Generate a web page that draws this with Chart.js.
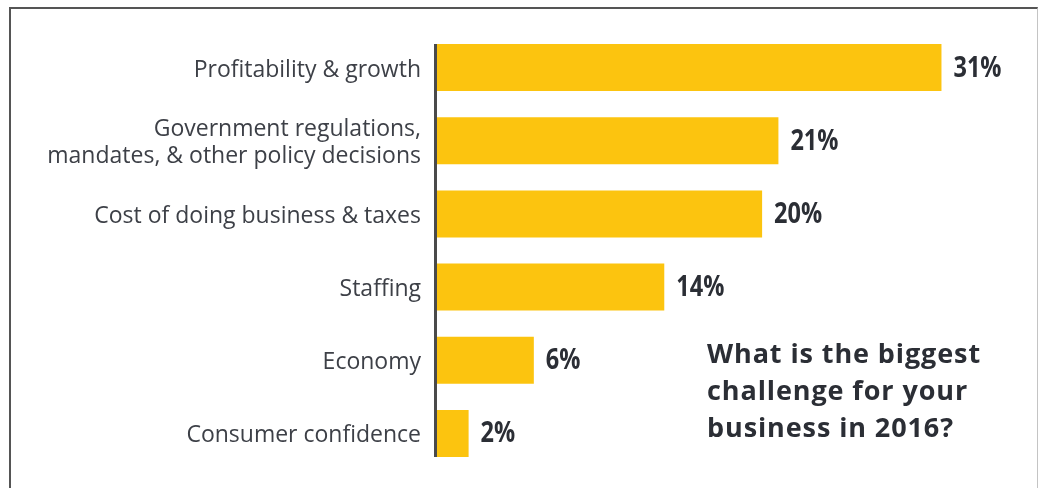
<!DOCTYPE html>
<html>
<head>
<meta charset="utf-8">
<script src="https://cdn.jsdelivr.net/npm/chart.js@4"></script>
<style>
  html, body { margin: 0; padding: 0; background: #fff; width: 1041px; height: 488px; overflow: hidden; }
  #wrap { position: relative; width: 1041px; height: 488px; }
  canvas { position: absolute; left: 0; top: 0; }
  #frame {
    position: absolute; left: 9px; top: 7px; width: 1026px; height: 500px;
    border-top: 2px solid #555; border-left: 2px solid #555; border-right: 1px solid #c4c4c4;
    pointer-events: none;
  }
  #question {
    position: absolute; left: 707px; top: 334px;
    font-family: "Open Sans", sans-serif; font-weight: 700; font-size: 27px;
    line-height: 37px; color: #2b2e35; letter-spacing: 0.9px;
  }
</style>
</head>
<body>
<div id="wrap">
  <canvas id="c" width="1041" height="488"></canvas>
  <div id="frame"></div>
  <div id="question">What is the biggest<br>challenge for your<br>business in 2016?</div>
</div>
<script>
const categories = [
  'Profitability & growth',
  ['Government regulations,', 'mandates, & other policy decisions'],
  'Cost of doing business & taxes',
  'Staffing',
  'Economy',
  'Consumer confidence'
];
const shares = [31, 21, 20, 14, 6, 2];
const valueLabels = ['31%', '21%', '20%', '14%', '6%', '2%'];

const AXIS_X = 436;

// Vertical axis line spanning from the first bar's top to the last bar's bottom
const axisLine = {
  id: 'axisLine',
  afterDatasetsDraw(chart) {
    const bars = chart.getDatasetMeta(0).data;
    const first = bars[0], last = bars[bars.length - 1];
    const ctx = chart.ctx;
    ctx.save();
    ctx.strokeStyle = '#4a4a4a';
    ctx.lineWidth = 3;
    ctx.beginPath();
    ctx.moveTo(chart.chartArea.left - 0.5, first.y - first.height / 2);
    ctx.lineTo(chart.chartArea.left - 0.5, last.y + last.height / 2);
    ctx.stroke();
    ctx.restore();
  }
};

// Percentage labels at the end of each bar, in a tall, slightly condensed bold face
const barValues = {
  id: 'barValues',
  afterDatasetsDraw(chart) {
    const ctx = chart.ctx;
    ctx.save();
    ctx.font = '700 28px "Open Sans", sans-serif';
    ctx.fillStyle = '#2b2e35';
    ctx.textBaseline = 'middle';
    ctx.textAlign = 'left';
    chart.getDatasetMeta(0).data.forEach((bar, i) => {
      ctx.save();
      ctx.translate(bar.x + 12, bar.y + 1);
      ctx.scale(0.84, 1);
      ctx.fillText(valueLabels[i], 0, 0);
      ctx.restore();
    });
    ctx.restore();
  }
};

new Chart(document.getElementById('c'), {
  type: 'bar',
  data: {
    labels: categories,
    datasets: [{
      data: shares,
      backgroundColor: '#fcc40f',
      borderWidth: 0,
      barPercentage: 0.643,
      categoryPercentage: 1.0
    }]
  },
  options: {
    indexAxis: 'y',
    responsive: false,
    animation: false,
    events: [],
    layout: { padding: { left: 0, right: 18, top: 31, bottom: 18 } },
    plugins: { legend: { display: false }, tooltip: { enabled: false } },
    scales: {
      x: {
        display: false,
        min: 0,
        max: 36
      },
      y: {
        afterFit(scale) {
          scale.width = AXIS_X;
          scale.paddingTop = 0;
          scale.paddingBottom = 0;
        },
        border: { display: false },
        grid: { display: false, drawTicks: false },
        ticks: {
          padding: 15,
          labelOffset: 2.5,
          color: '#3d4047',
          font: { family: '"Open Sans", sans-serif', size: 23, weight: 400, lineHeight: 1.17 }
        }
      }
    }
  },
  plugins: [axisLine, barValues]
});
</script>
</body>
</html>
